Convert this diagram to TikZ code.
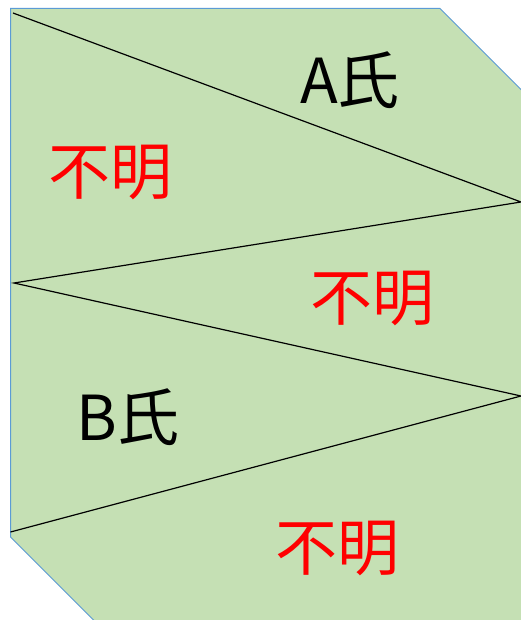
\documentclass[tikz,border=0pt]{standalone}
\usepackage{fontspec}
\setmainfont{Noto Sans CJK JP}
\definecolor{fillgreen}{HTML}{C5E0B4}
\definecolor{edgeblue}{HTML}{5B9BD5}
\begin{document}
\begin{tikzpicture}[x=1pt,y=-1pt,
  lbl/.style={font=\fontsize{62}{62}\selectfont, inner sep=0pt},
  redlbl/.style={lbl, text=red},
  zig/.style={draw=black, line width=1.2pt}]
\useasboundingbox (0,0) rectangle (521,620);
\clip (0,0) rectangle (521,620);
\filldraw[fill=fillgreen, draw=edgeblue, line width=1pt]
  (10.5,8.5) -- (440,8.5) -- (560,128.5) -- (560,660) -- (133.5,660) -- (10.5,537) -- cycle;
\coordinate (p1) at (13,13);
\coordinate (p2) at (521,202);
\coordinate (p3) at (14,283);
\coordinate (p4) at (521,396);
\coordinate (p5) at (10.5,532);
\draw[zig] (p1) -- (p2) -- (p3) -- (p4) -- (p5);
\node[lbl] (a) at (350,80) {A氏};
\node[redlbl] (u1) at (110,172) {不明};
\node[redlbl] (u2) at (372,298) {不明};
\node[lbl] (b) at (128,417) {B氏};
\node[redlbl] (u3) at (337,548) {不明};
\end{tikzpicture}
\end{document}
